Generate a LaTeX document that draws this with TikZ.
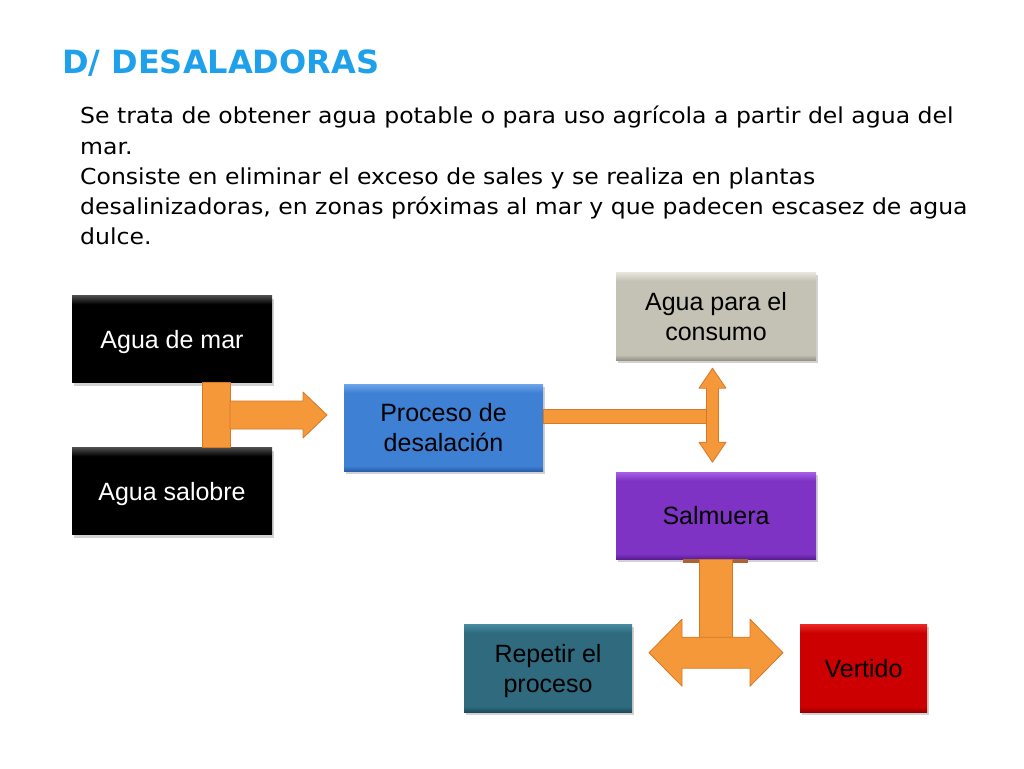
\documentclass[tikz,border=0pt]{standalone}
\usepackage{fontspec}
\setmainfont{DejaVu Sans}
\newfontfamily\bodyfont[FakeStretch=1.07]{DejaVu Sans}
\newfontfamily\boxfont{Liberation Sans}
\usetikzlibrary{positioning,calc,shadows}

\definecolor{titleblue}{RGB}{30,160,235}
\definecolor{pipeorange}{RGB}{244,152,58}
\definecolor{pipeedge}{RGB}{214,120,40}
\definecolor{pipecap}{RGB}{170,100,50}

% bevelled fill: dark lower edge, flat body, light upper edge
\colorlet{tilelight}{gray}\colorlet{tilebase}{gray}\colorlet{tiledark}{gray}
\pgfdeclareverticalshading[tilelight,tilebase,tiledark]{bevel}{100bp}{%
  color(0bp)=(tiledark); color(25bp)=(tiledark); color(28bp)=(tilebase);
  color(70bp)=(tilebase); color(75bp)=(tilelight); color(100bp)=(tilelight)}

\tikzset{
  tile/.style={rectangle, inner sep=0pt, minimum width=200pt, minimum height=87pt,
    align=center, text depth=0pt, font=\boxfont\fontsize{25}{30}\selectfont,
    drop shadow={shadow xshift=2pt, shadow yshift=-3pt, opacity=0.35}},
  tint/.style n args={3}{/utils/exec={\colorlet{tilelight}{#1}\colorlet{tilebase}{#2}\colorlet{tiledark}{#3}},
    shading=bevel},
  pipe/.style={fill=pipeorange, draw=pipeedge, line width=0.8pt, line join=round}
}

\begin{document}
\begin{tikzpicture}[x=1pt,y=-1pt,node distance=150pt,on grid]
\fill[white] (0,0) rectangle (1024,768);
\useasboundingbox (0,0) rectangle (1024,768);

% heading and text
\node[anchor=base west, inner sep=0pt, text=titleblue,
      font=\bfseries\fontsize{32}{38}\selectfont] (title) at (62,73) {D/ DESALADORAS};
\node[anchor=north west, inner sep=0pt, align=left,
      font=\bodyfont\fontsize{22}{30.3}\selectfont] (intro) at (80,106)
  {Se trata de obtener agua potable o para uso agrícola a partir del agua del\\
   mar.\\
   Consiste en eliminar el exceso de sales y se realiza en plantas\\
   desalinizadoras, en zonas próximas al mar y que padecen escasez de agua\\
   dulce.};

% boxes
\node[tile, text=white, tint={black!70}{black}{black}] (mar) at (172,339) {Agua de mar};
\node[tile, text=white, tint={black!70}{black}{black}] (salobre) [below=152pt of mar] {Agua salobre};
\node[tile, minimum width=199pt, tint={rgb,255:red,110;green,165;blue,235}{rgb,255:red,62;green,128;blue,212}{rgb,255:red,40;green,94;blue,170}] (proceso) at (443.5,427.5) {Proceso de\\desalación};
\node[tile, minimum height=88pt, tint={rgb,255:red,232;green,231;blue,222}{rgb,255:red,196;green,194;blue,180}{rgb,255:red,150;green,148;blue,134}] (consumo) at (716,316) {Agua para el\\consumo};
\node[tile, tint={rgb,255:red,166;green,96;blue,228}{rgb,255:red,126;green,51;blue,196}{rgb,255:red,92;green,28;blue,150}] (salmuera) [below=199.5pt of consumo] {Salmuera};
\node[tile, minimum width=168pt, minimum height=88pt, tint={rgb,255:red,72;green,140;blue,162}{rgb,255:red,47;green,106;blue,126}{rgb,255:red,30;green,74;blue,90}] (repetir) at (548,668) {Repetir el\\proceso};
\node[tile, minimum width=127pt, minimum height=88pt, tint={rgb,255:red,236;green,40;blue,40}{rgb,255:red,204;green,0;blue,0}{rgb,255:red,150;green,0;blue,0}] (vertido) [right=315.5pt of repetir] {Vertido};

% junctions
\coordinate (j1) at ($(mar.south)!0.5!(salobre.north)+(44,0)$);
\coordinate (j2) at ($(consumo.south)!0.5!(salmuera.north)+(-3.5,0)$);
\coordinate (j3) at ($(salmuera.south)+(0,93.5)$);

% sea water and brackish water into the plant
\draw[pipe] ($(mar.south -| j1)+(-14,0)$) rectangle ($(salobre.north -| j1)+(14,0)$);
\draw[pipe] ($(j1)+(14,-14)$) -- ++(73,0) -- ++(0,-9) -- ++(24,23) -- ++(-24,23)
  -- ++(0,-9) -- ++(-73,0) -- cycle;

% plant to drinking water and brine
\draw[pipe] ($(proceso.east |- j2)+(0,-7)$) rectangle ($(j2)+(-5.5,7)$);
\draw[pipe] ($(consumo.south -| j2)+(0,8)$) -- ++(13.5,20) -- ++(-7.5,0) -- ++(0,54)
  -- ++(7.5,0) -- ++(-13.5,20) -- ++(-13.5,-20) -- ++(7.5,0) -- ++(0,-54) -- ++(-7.5,0) -- cycle;

% brine: repeat or discharge
\fill[pipecap] ($(salmuera.south)+(-33,0)$) rectangle ($(salmuera.south)+(32,4)$);
\draw[pipe] ($(salmuera.south)+(-16.5,0)$) rectangle ($(j3)+(16.5,-15)$);
\draw[pipe] ($(j3)+(-67,0)$) -- ++(33,-33.5) -- ++(0,18) -- ++(68,0) -- ++(0,-18)
  -- ++(33,33.5) -- ++(-33,33.5) -- ++(0,-18) -- ++(-68,0) -- ++(0,18) -- cycle;
\end{tikzpicture}
\end{document}
